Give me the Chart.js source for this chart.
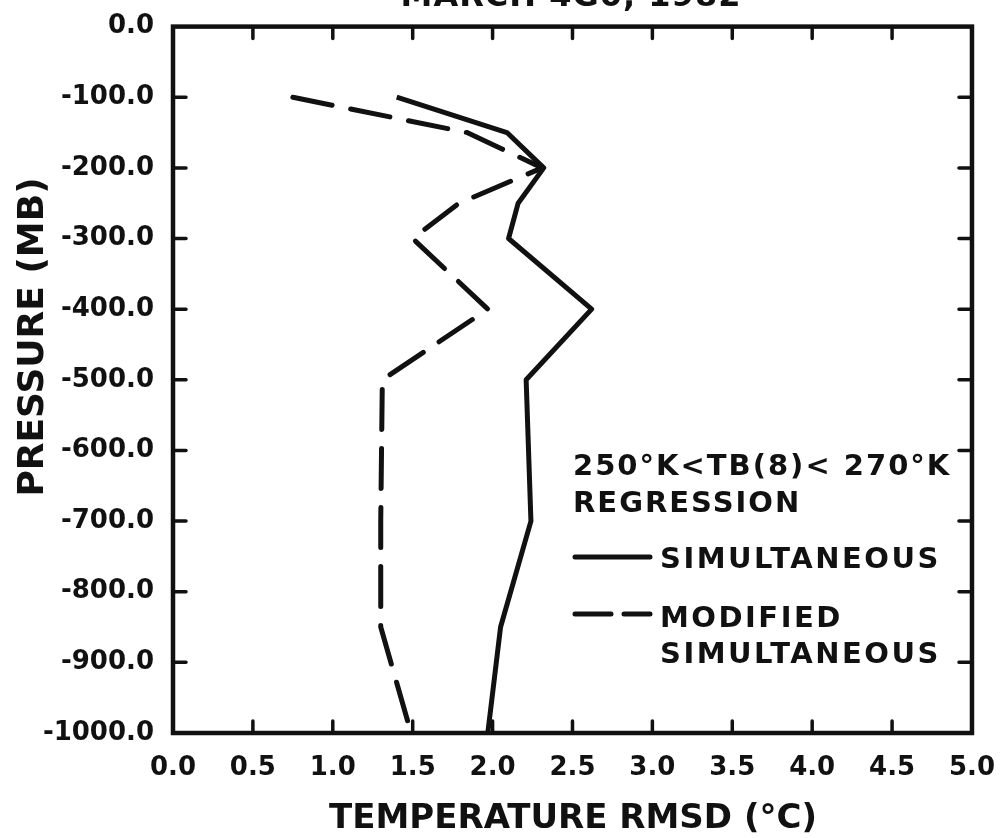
<!DOCTYPE html>
<html>
<head>
<meta charset="utf-8">
<script src="https://cdn.jsdelivr.net/npm/chart.js@4.4.0/dist/chart.umd.min.js"></script>
<style>
body { margin: 0; background: #fff; }
canvas { display: block; }
</style>
</head>
<body>
<canvas id="mycanvas" width="1007" height="838"></canvas>
<script>
// pressure levels (MB, negative down) and RMSD values
var simLevels = [-100, -150, -200, -250, -300, -400, -500, -700, -850, -1000];
var simRmsd = [1.40, 2.09, 2.32, 2.16, 2.10, 2.62, 2.21, 2.24, 2.05, 1.97];
var modLevels = [-100, -150, -200, -250, -300, -400, -500, -700, -850, -1000];
var modRmsd = [0.75, 1.84, 2.31, 1.79, 1.50, 1.97, 1.31, 1.30, 1.30, 1.49];

var xTicks = [0, 0.5, 1, 1.5, 2, 2.5, 3, 3.5, 4, 4.5, 5];
var yTicks = [0, -100, -200, -300, -400, -500, -600, -700, -800, -900, -1000];

var titleText = 'MARCH 4G0, 1982';
var xTitle = 'TEMPERATURE RMSD (\u00B0C)';
var yTitle = 'PRESSURE (MB)';
var legendHead = ['250\u00B0K<TB(8)< 270\u00B0K', 'REGRESSION'];

var ink = '#111';
var fam = '"DejaVu Sans", sans-serif';

function points(xs, ys) {
	var out = [];
	for (var i in xs) {
		out.push({x: xs[i], y: ys[i]});
	}
	return out;
}

var framePlugin = {
	id: 'frame',
	afterDatasetsDraw: function(chart) {
		var ctx = chart.ctx;
		var a = chart.chartArea;
		var xs = chart.scales.x, ys = chart.scales.y;
		ctx.save();
		ctx.strokeStyle = ink;
		ctx.lineWidth = 4.5;
		ctx.strokeRect(a.left, a.top, a.right - a.left, a.bottom - a.top);

		// inward tick marks on all four sides
		ctx.lineWidth = 3.5;
		ctx.lineCap = 'round';
		ctx.beginPath();
		xTicks.forEach(function(v) {
			if (v <= 0 || v >= 5) return;
			var px = xs.getPixelForValue(v);
			ctx.moveTo(px, a.top); ctx.lineTo(px, a.top + 12);
			ctx.moveTo(px, a.bottom); ctx.lineTo(px, a.bottom - 12);
		});
		yTicks.forEach(function(v) {
			if (v >= 0 || v <= -1000) return;
			var py = ys.getPixelForValue(v);
			ctx.moveTo(a.left, py); ctx.lineTo(a.left + 13, py);
			ctx.moveTo(a.right, py); ctx.lineTo(a.right - 13, py);
		});
		ctx.stroke();
		ctx.restore();
	},
	afterDraw: function(chart) {
		var ctx = chart.ctx;
		ctx.save();
		ctx.fillStyle = ink;
		ctx.textBaseline = 'alphabetic';

		// title, cut off at the top of the scan
		ctx.font = 'bold 32px ' + fam;
		ctx.textAlign = 'center';
		ctx.letterSpacing = '1px';
		ctx.fillText(titleText, 571, 6);

		// axis titles
		ctx.font = 'bold 34px ' + fam;
		ctx.letterSpacing = '0px';
		ctx.fillText(xTitle, 573, 828);

		ctx.save();
		ctx.translate(43, 337);
		ctx.rotate(-Math.PI / 2);
		ctx.font = 'bold 36px ' + fam;
		ctx.fillText(yTitle, 0, 0);
		ctx.restore();

		// legend
		ctx.textAlign = 'left';
		ctx.font = 'bold 29px ' + fam;
		ctx.letterSpacing = '2px';
		ctx.fillText(legendHead[0], 573, 475);
		ctx.fillText(legendHead[1], 573, 512);
		ctx.letterSpacing = '2.5px';
		ctx.fillText(chart.data.datasets[0].label, 660, 568);
		var parts = chart.data.datasets[1].label.split(' ');
		ctx.fillText(parts[0], 660, 627);
		ctx.fillText(parts[1], 660, 663);

		ctx.strokeStyle = ink;
		ctx.lineWidth = 5;
		ctx.lineCap = 'round';
		ctx.beginPath();
		ctx.moveTo(575, 557); ctx.lineTo(650, 557);
		ctx.moveTo(575, 614); ctx.lineTo(611, 614);
		ctx.moveTo(624, 614); ctx.lineTo(650, 614);
		ctx.stroke();
		ctx.restore();
	}
};

var chartdata = {
	datasets: [
		{
			label: 'SIMULTANEOUS',
			data: points(simRmsd, simLevels),
			borderColor: ink,
			borderWidth: 5,
			borderJoinStyle: 'round',
			pointRadius: 0,
			showLine: true,
			tension: 0
		},
		{
			label: 'MODIFIED SIMULTANEOUS',
			data: points(modRmsd, modLevels),
			borderColor: ink,
			borderWidth: 5,
			borderDash: [40, 19],
			borderCapStyle: 'round',
			borderJoinStyle: 'round',
			pointRadius: 0,
			showLine: true,
			tension: 0
		}
	]
};

var ctx = document.getElementById('mycanvas');

var rmsdChart = new Chart(ctx, {
	type: 'scatter',
	data: chartdata,
	plugins: [framePlugin],
	options: {
		responsive: false,
		animation: false,
		layout: { padding: { left: 0, top: 22, right: 30, bottom: 0 } },
		plugins: {
			legend: { display: false },
			tooltip: { enabled: false }
		},
		scales: {
			x: {
				type: 'linear',
				min: 0,
				max: 5,
				grid: { display: false },
				border: { display: false },
				afterBuildTicks: function(scale) {
					scale.ticks = xTicks.map(function(v) { return {value: v}; });
				},
				afterFit: function(scale) { scale.height = 105; },
				ticks: {
					color: ink,
					padding: 12,
					maxRotation: 0,
					font: { family: fam, size: 26, weight: 'bold' },
					callback: function(v) { return v.toFixed(1); }
				}
			},
			y: {
				type: 'linear',
				min: -1000,
				max: 0,
				grid: { display: false },
				border: { display: false },
				afterBuildTicks: function(scale) {
					scale.ticks = yTicks.map(function(v) { return {value: v}; });
				},
				afterFit: function(scale) { scale.width = 173; },
				ticks: {
					color: ink,
					padding: 11,
					font: { family: fam, size: 26, weight: 'bold' },
					callback: function(v) { return v.toFixed(1); }
				}
			}
		}
	}
});
</script>
</body>
</html>
